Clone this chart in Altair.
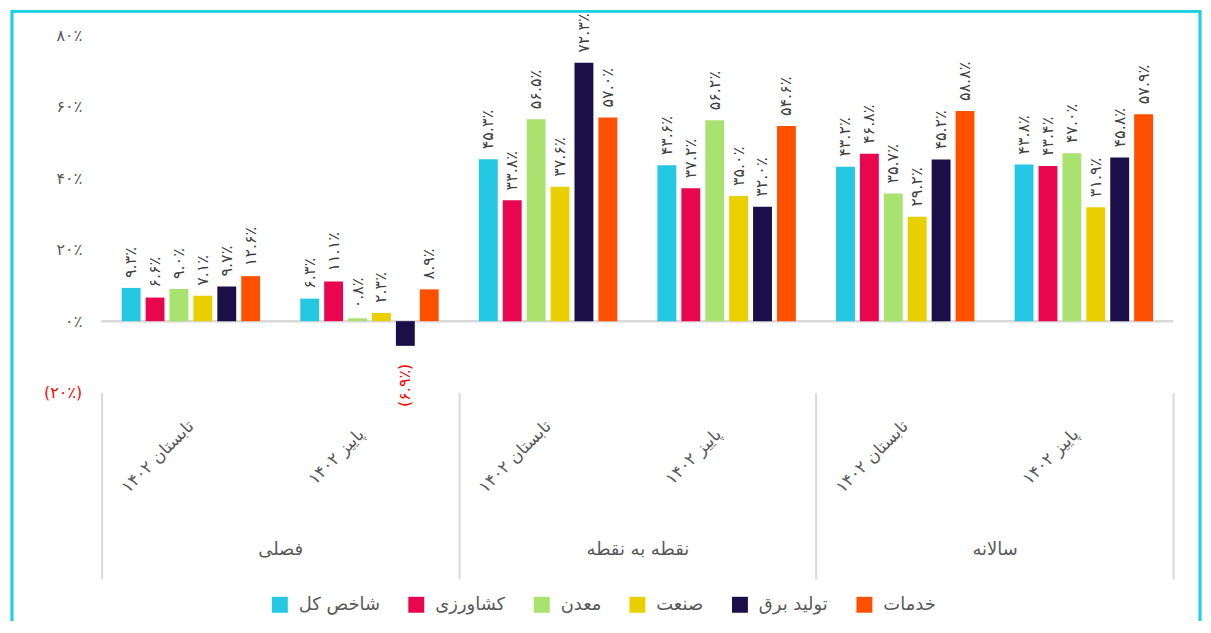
import altair as alt
import pandas as pd

# ---- data ----
groups = ["فصلی", "فصلی", "نقطه به نقطه", "نقطه به نقطه", "سالانه", "سالانه"]
periods = ["تابستان ۱۴۰۲", "پاییز ۱۴۰۲", "تابستان ۱۴۰۲", "پاییز ۱۴۰۲", "تابستان ۱۴۰۲", "پاییز ۱۴۰۲"]
group_order = ["فصلی", "نقطه به نقطه", "سالانه"]
series = ["شاخص کل", "کشاورزی", "معدن", "صنعت", "تولید برق", "خدمات"]
colors = ["#24C8E2", "#E8064F", "#A9E26E", "#EBD000", "#1B0F4A", "#FF5000"]

v_total = [9.3, 6.3, 45.3, 43.6, 43.2, 43.8]
v_agri = [6.6, 11.1, 33.8, 37.2, 46.8, 43.4]
v_mine = [9.0, 0.8, 56.5, 56.2, 35.7, 47.0]
v_ind = [7.1, 2.3, 37.6, 35.0, 29.2, 31.9]
v_power = [9.7, -6.9, 72.3, 32.0, 45.2, 45.8]
v_serv = [12.6, 8.9, 57.0, 54.6, 58.8, 57.9]

y_ticks = [-20, 0, 20, 40, 60, 80]

# ---- helpers ----
FA = str.maketrans("0123456789", "۰۱۲۳۴۵۶۷۸۹")


def fa_pct(v, dec=True):
    s = (f"{abs(v):.1f}" if dec else f"{abs(v):.0f}").translate(FA) + "٪"
    return f"({s})" if v < 0 else s


keys = [f"{g}|{p}|{i}" for i, (g, p) in enumerate(zip(groups, periods))]
all_vals = [v_total, v_agri, v_mine, v_ind, v_power, v_serv]
rows = []
for s, vals in zip(series, all_vals):
    for k, v in zip(keys, vals):
        rows.append({"key": k, "series": s, "value": v, "label": fa_pct(v)})
df = pd.DataFrame(rows)
gdf = pd.DataFrame({"group": group_order, "zero": [0, 0, 0]})

ylabel_expr = " : ".join(
    f"datum.value == {t} ? '{fa_pct(t, dec=False)}'" for t in y_ticks
) + " : ''"

FONT = "DejaVu Sans"
GRAY = "#595959"

x_cat = alt.X(
    "key:N",
    sort=keys,
    scale=alt.Scale(paddingInner=0, paddingOuter=0),
    axis=alt.Axis(
        orient="bottom", title=None, domain=False, ticks=False, grid=False,
        labelExpr="split(datum.label, '|')[1]", labelAngle=-45,
        labelAlign="center", labelBaseline="middle", labelPadding=64,
        labelOffset=-33, labelFontSize=17, labelColor=GRAY, labelFont=FONT,
        labelOverlap=False, labelBound=False,
    ),
)
y_val = alt.Y(
    "value:Q",
    scale=alt.Scale(domain=[-20, 80], nice=False),
    axis=alt.Axis(
        title=None, values=y_ticks, grid=False, domain=False, ticks=False,
        labelExpr=ylabel_expr, labelPadding=20, labelFontSize=16, labelFont=FONT,
        labelColor={"condition": {"test": "datum.value < 0", "value": "#FF0000"}, "value": GRAY},
    ),
)
xoff = alt.XOffset("series:N", sort=series, scale=alt.Scale(paddingInner=0.21, paddingOuter=0.84))

base = alt.Chart(df)

bars = base.mark_bar().encode(
    x=x_cat, y=y_val, xOffset=xoff,
    color=alt.Color(
        "series:N", sort=series,
        scale=alt.Scale(domain=series, range=colors),
        legend=alt.Legend(
            title=None, orient="none", legendX=170, legendY=563, direction="horizontal",
            symbolType="square", symbolSize=256, symbolStrokeWidth=0,
            labelFontSize=18, labelFont=FONT, labelColor=GRAY,
            columnPadding=27, labelOffset=10,
        ),
    ),
)

pos_labels = base.transform_filter("datum.value >= 0").mark_text(
    angle=270, align="left", baseline="middle", dx=10, fontSize=16, font=FONT, color="#404040"
).encode(x=x_cat, y=y_val, xOffset=xoff, text="label:N")

neg_labels = base.transform_filter("datum.value < 0").mark_text(
    angle=270, align="right", baseline="middle", dx=-18, fontSize=16, font=FONT, color="#FF0000"
).encode(x=x_cat, y=y_val, xOffset=xoff, text="label:N")

zero = alt.Chart(gdf).mark_rule(color="#D9D9D9", strokeWidth=2).encode(y=alt.Y("zero:Q"))

main = alt.layer(zero, bars, pos_labels, neg_labels)

group_axis = alt.Chart(gdf).mark_text(opacity=0, text="").encode(
    x=alt.X(
        "group:N", sort=group_order,
        scale=alt.Scale(paddingInner=0, paddingOuter=0),
        axis=alt.Axis(
            orient="bottom", title=None, domain=False, ticks=True, tickBand="extent",
            tickSize=187, tickColor="#D9D9D9", tickWidth=2, labelAngle=0,
            labelPadding=-38, labelFontSize=18, labelFont=FONT, labelColor=GRAY,
            grid=False,
        ),
    ),
    y=alt.Y("zero:Q"),
)

border = alt.Chart(gdf).mark_rect(fill=None, stroke="#1ECFE8", strokeWidth=2.5).encode(
    x=alt.value(-90), x2=alt.value(1103), y=alt.value(-24), y2=alt.value(700)
)

chart = alt.layer(main, group_axis, border).resolve_scale(
    x="independent"
).properties(
    width=1076, height=359,
    autosize=alt.AutoSizeParams(type="none"),
    padding={"left": 94, "top": 26, "right": 30, "bottom": 228},
).configure_view(stroke=None)

chart.save("out.html", embed_options={"renderer": "svg", "actions": False})
